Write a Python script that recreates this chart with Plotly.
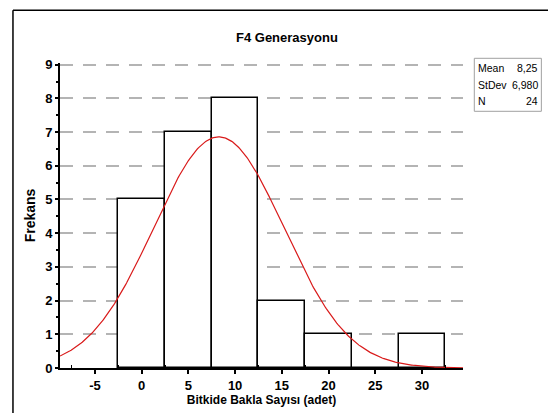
import numpy as np
import plotly.graph_objects as go

# ---- data ----
bin_centers = [0, 5, 10, 15, 20, 25, 30]
frequencies = [5, 7, 8, 2, 1, 0, 1]
bin_width = 5
mean_val = 8.25
sd_val = 6.980
n_val = 24
title_text = "F4 Generasyonu"
x_title = "Bitkide Bakla Sayısı (adet)"
y_title = "Frekans"
x_ticks = [-5, 0, 5, 10, 15, 20, 25, 30]
y_ticks = list(range(0, 10))
stat_labels = ["Mean", "StDev", "N"]
stat_values = ["8,25", "6,980", "24"]

# ---- layout geometry (page pixels; page body has an 8px default margin) ----
OFF = 8
W, H = 556 - OFF, 413 - OFF
AX_L, AX_R, AX_T, AX_B = 60, 462.7, 62.7, 367.7   # plot area in page pixels
ML = AX_L - OFF
MR = W - (AX_R - OFF)
MT = AX_T - OFF
MB = H - (AX_B - OFF)
PW, PH = W - ML - MR, H - MT - MB
XR = [-8.75, 34.4]
YR = [0, 9.05]

def px_x(p):
    return (p - OFF - ML) / PW

def px_y(p):
    return (H - MB - (p - OFF)) / PH

# fitted normal curve
xc = np.linspace(XR[0], XR[1], 400)
yc = n_val * bin_width / (sd_val * np.sqrt(2 * np.pi)) * np.exp(-0.5 * ((xc - mean_val) / sd_val) ** 2)

FONT = "Liberation Sans, Arial, sans-serif"

fig = go.Figure()
fig.add_trace(go.Bar(
    x=bin_centers, y=frequencies, width=bin_width,
    marker=dict(color="white", line=dict(color="black", width=1.5)),
    hoverinfo="skip", showlegend=False,
))
fig.add_trace(go.Scatter(
    x=xc, y=yc, mode="lines",
    line=dict(color="#d91a1a", width=1.2),
    hoverinfo="skip", showlegend=False,
))

shapes = [
    # outer frame (top + left only)
    dict(type="line", xref="paper", yref="paper", x0=px_x(13), x1=px_x(560), y0=px_y(10), y1=px_y(10),
         line=dict(color="black", width=1.5)),
    dict(type="line", xref="paper", yref="paper", x0=px_x(13), x1=px_x(13), y0=px_y(10), y1=px_y(420),
         line=dict(color="black", width=1.5)),
    # stats box
    dict(type="rect", xref="paper", yref="paper", x0=px_x(474), x1=px_x(541), y0=px_y(58), y1=px_y(111),
         line=dict(color="#a0a0a0", width=1), fillcolor="white"),
]

annotations = [
    dict(text=title_text, xref="paper", yref="paper", x=px_x(287), y=px_y(37), showarrow=False,
         xanchor="center", yanchor="middle", font=dict(family=FONT, size=13, color="black", weight="bold")),
]
row_y = [68, 85, 101]
for lab, val, ry in zip(stat_labels, stat_values, row_y):
    annotations.append(dict(text=lab, xref="paper", yref="paper", x=px_x(476), y=px_y(ry), showarrow=False,
                            xanchor="left", yanchor="middle",
                            font=dict(family=FONT, size=10.5, color="black")))
    annotations.append(dict(text=val, xref="paper", yref="paper", x=px_x(540), y=px_y(ry), showarrow=False,
                            xanchor="right", yanchor="middle",
                            font=dict(family=FONT, size=10.5, color="black")))

fig.update_layout(
    width=W, height=H,
    margin=dict(l=ML, r=MR, t=MT, b=MB, pad=0, autoexpand=False),
    paper_bgcolor="white", plot_bgcolor="white",
    bargap=0,
    shapes=shapes, annotations=annotations,
    font=dict(family=FONT, color="black"),
)
fig.update_xaxes(
    automargin=False,
    range=XR, tickvals=x_ticks, ticktext=[str(v) for v in x_ticks],
    showline=True, linecolor="black", linewidth=2,
    ticks="outside", ticklen=4, tickwidth=1.5, tickcolor="black",
    minor=dict(tickvals=[-7.5, -2.5, 2.5, 7.5, 12.5, 17.5, 22.5, 27.5, 32.5], ticks="inside", ticklen=3,
               tickwidth=1.2, tickcolor="black"),
    showgrid=False, zeroline=False,
    tickfont=dict(family=FONT, size=13, weight="bold"),
    title=dict(text=x_title, font=dict(family=FONT, size=12, weight="bold"), standoff=4),
)
fig.update_yaxes(
    automargin=False,
    range=YR, tickvals=y_ticks,
    showline=True, linecolor="black", linewidth=2,
    ticks="outside", ticklen=3, tickwidth=1.5, tickcolor="black",
    minor=dict(dtick=0.5, ticks="outside", ticklen=2, tickwidth=2, tickcolor="black"),
    showgrid=True, gridcolor="#b4b4b4", gridwidth=1.5, griddash="13px,10px",
    zeroline=False,
    tickfont=dict(family=FONT, size=13, weight="bold"),
    title=dict(text=y_title, font=dict(family=FONT, size=14, weight="bold"), standoff=6),
)

fig.write_html("out.html")
